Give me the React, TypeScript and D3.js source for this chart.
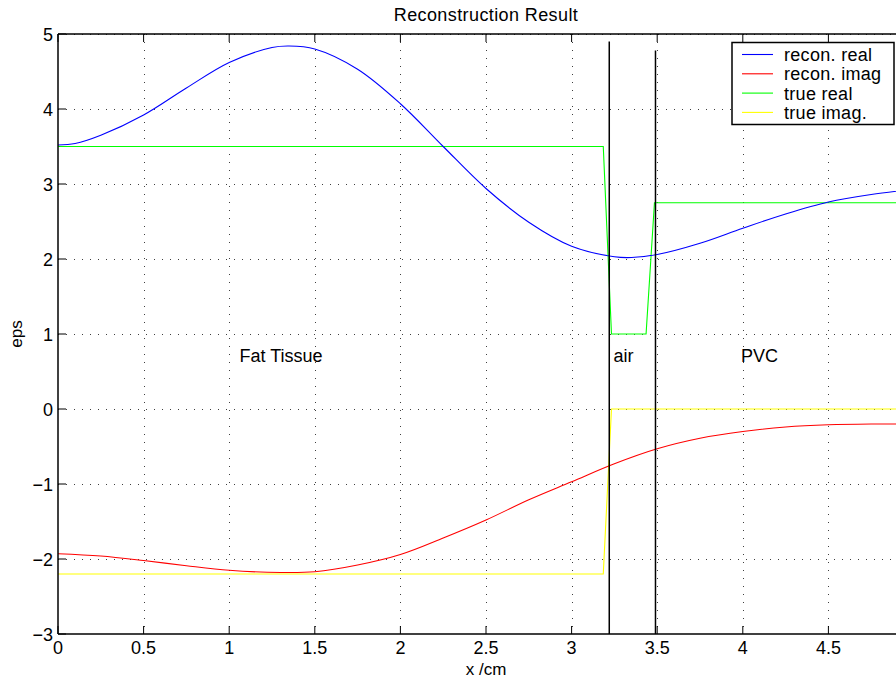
import React from "react";
import * as d3 from "d3";

const xTicks = [0, 0.5, 1, 1.5, 2, 2.5, 3, 3.5, 4, 4.5, 5];
const yTicks = [-3, -2, -1, 0, 1, 2, 3, 4, 5];
const xTickLabels = ["0", "0.5", "1", "1.5", "2", "2.5", "3", "3.5", "4", "4.5", "5"];
const yTickLabels = ["\u22123", "\u22122", "\u22121", "0", "1", "2", "3", "4", "5"];

const reconX = [0, 0.1, 0.25, 0.5, 0.75, 1.0, 1.25, 1.35, 1.5, 1.75, 2.0, 2.25, 2.5, 2.75, 3.0, 3.25, 3.35, 3.5, 3.75, 4.0, 4.25, 4.5, 4.75, 5.0];
const reconReal = [3.52, 3.54, 3.65, 3.92, 4.28, 4.62, 4.82, 4.84, 4.8, 4.53, 4.07, 3.5, 2.94, 2.49, 2.17, 2.03, 2.02, 2.06, 2.21, 2.41, 2.6, 2.76, 2.86, 2.93];
const reconImagX = [0, 0.25, 0.5, 0.75, 1.0, 1.3, 1.5, 1.75, 2.0, 2.25, 2.5, 2.75, 3.0, 3.25, 3.5, 3.75, 4.0, 4.25, 4.5, 4.75, 5.0];
const reconImag = [-1.93, -1.96, -2.02, -2.09, -2.15, -2.18, -2.17, -2.08, -1.94, -1.72, -1.48, -1.21, -0.97, -0.73, -0.53, -0.39, -0.3, -0.24, -0.21, -0.2, -0.2];
const trueRealX = [0, 3.185, 3.233, 3.435, 3.484, 5];
const trueReal = [3.5, 3.5, 1, 1, 2.75, 2.75];
const trueImagX = [0, 3.185, 3.233, 5];
const trueImag = [-2.2, -2.2, 0, 0];
const boundaries = [
  { x: 3.22, top: 4.9 },
  { x: 3.49, top: 4.78 },
];
const regionLabels = [
  { text: "Fat Tissue", x: 1.06, y: 0.63 },
  { text: "air", x: 3.245, y: 0.63 },
  { text: "PVC", x: 3.99, y: 0.63 },
];
const legendItems = [
  { label: "recon. real", color: "#0000ff" },
  { label: "recon. imag", color: "#ff0000" },
  { label: "true real", color: "#00ff00" },
  { label: "true imag.", color: "#ffff00" },
];

const W = 896;
const H = 681;
const L = 58;
const T = 34;
const B = 634;
const R = 914;
const FONT = "'Liberation Sans', Arial, Helvetica, sans-serif";

export default function App() {
  const x = d3.scaleLinear().domain([0, 5]).range([L, R]);
  const y = d3.scaleLinear().domain([-3, 5]).range([B, T]);

  const smooth = d3
    .line<[number, number]>()
    .x((d) => x(d[0]))
    .y((d) => y(d[1]))
    .curve(d3.curveCatmullRom.alpha(0.5));
  const straight = d3
    .line<[number, number]>()
    .x((d) => x(d[0]))
    .y((d) => y(d[1]));

  const zip = (xs: number[], ys: number[]) => xs.map((v, i) => [v, ys[i]] as [number, number]);

  return (
    <div style={{ position: "fixed", left: 0, top: 0 }}>
      <svg width={W} height={H} style={{ display: "block", background: "#fff" }} fontFamily={FONT}>
        <defs>
          <clipPath id="plotclip">
            <rect x={L} y={T} width={R - L} height={B - T} />
          </clipPath>
        </defs>
        {/* grid */}
        <g stroke="#000" strokeWidth={1} strokeDasharray="1,7" shapeRendering="crispEdges" opacity={0.75}>
          {xTicks.slice(1).map((t) => (
            <line key={"gx" + t} x1={Math.round(x(t)) + 0.5} x2={Math.round(x(t)) + 0.5} y1={T} y2={B} />
          ))}
          {yTicks.slice(1).map((t) => (
            <line key={"gy" + t} x1={L} x2={R} y1={Math.round(y(t)) + 0.5} y2={Math.round(y(t)) + 0.5} />
          ))}
        </g>
        {/* data */}
        <g clipPath="url(#plotclip)" fill="none" strokeWidth={1.1}>
          <path d={straight(zip(trueImagX, trueImag)) || ""} stroke="#ffff00" />
          <path d={straight(zip(trueRealX, trueReal)) || ""} stroke="#00ff00" />
          <path d={smooth(zip(reconImagX, reconImag)) || ""} stroke="#ff0000" />
          <path d={smooth(zip(reconX, reconReal)) || ""} stroke="#0000ff" />
          {boundaries.map((b) => (
            <line key={"b" + b.x} x1={x(b.x)} x2={x(b.x)} y1={y(b.top)} y2={B} stroke="#000" strokeWidth={1.5} />
          ))}
        </g>
        {/* region labels */}
        {regionLabels.map((r) => (
          <text key={r.text} x={x(r.x)} y={y(r.y)} fontSize={18} fill="#000">
            {r.text}
          </text>
        ))}
        {/* axes box */}
        <g stroke="#000" strokeWidth={1.5} fill="none">
          <line x1={L} x2={R} y1={T} y2={T} />
          <line x1={L} x2={R} y1={B} y2={B} />
          <line x1={L} x2={L} y1={T} y2={B} />
          <line x1={R} x2={R} y1={T} y2={B} />
        </g>
        {/* ticks */}
        <g stroke="#000" strokeWidth={1}>
          {xTicks.map((t) => (
            <g key={"tx" + t}>
              <line x1={x(t)} x2={x(t)} y1={B} y2={B - 8} />
              <line x1={x(t)} x2={x(t)} y1={T} y2={T + 8} />
            </g>
          ))}
          {yTicks.map((t) => (
            <g key={"ty" + t}>
              <line x1={L} x2={L + 8} y1={y(t)} y2={y(t)} />
              <line x1={R} x2={R - 8} y1={y(t)} y2={y(t)} />
            </g>
          ))}
        </g>
        {/* tick labels */}
        <g fontSize={18} fill="#000">
          {xTicks.map((t, i) =>
            x(t) + 10 < W ? (
              <text key={"lx" + t} x={x(t)} y={B + 20} textAnchor="middle">
                {xTickLabels[i]}
              </text>
            ) : null
          )}
          {yTicks.map((t, i) => (
            <text key={"ly" + t} x={L - 5} y={y(t) + 6.5} textAnchor="end">
              {yTickLabels[i]}
            </text>
          ))}
        </g>
        {/* axis labels and title */}
        <text x={(L + R) / 2} y={21} textAnchor="middle" fontSize={18} fill="#000" letterSpacing={0.4}>
          Reconstruction Result
        </text>
        <text x={(L + R) / 2} y={675} textAnchor="middle" fontSize={17} fill="#000">
          x /cm
        </text>
        <text transform={`translate(22,${(T + B) / 2}) rotate(-90)`} textAnchor="middle" fontSize={17} fill="#000">
          eps
        </text>
        {/* legend */}
        <g>
          <rect x={732} y={42.5} width={162} height={82} fill="#fff" stroke="#000" strokeWidth={1.5} />
          {legendItems.map((item, i) => (
            <g key={item.label}>
              <line x1={742} x2={773} y1={54.5 + i * 19.3} y2={54.5 + i * 19.3} stroke={item.color} strokeWidth={1.1} />
              <text x={784} y={61 + i * 19.3} fontSize={18} fill="#000" letterSpacing={0.3}>
                {item.label}
              </text>
            </g>
          ))}
        </g>
      </svg>
    </div>
  );
}
